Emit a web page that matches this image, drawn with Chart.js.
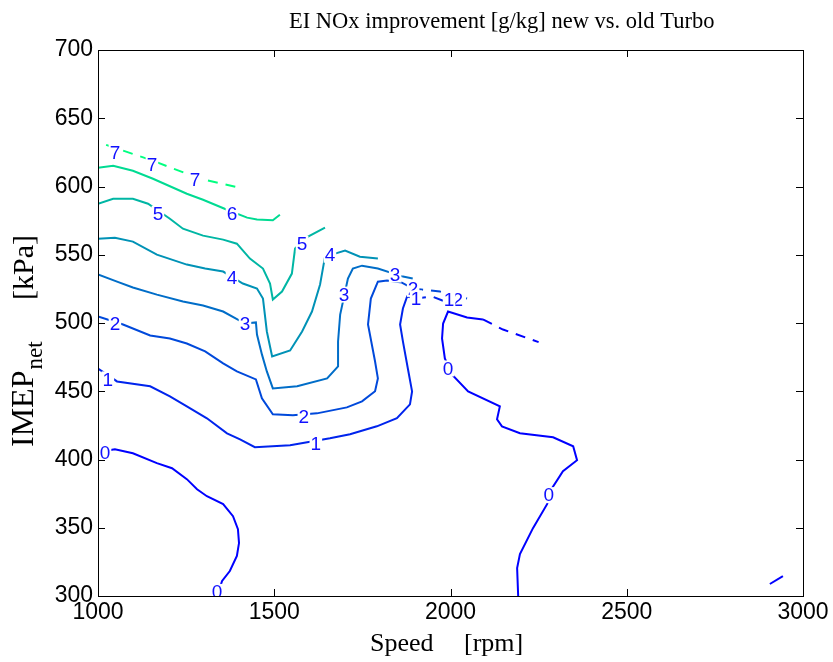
<!DOCTYPE html>
<html>
<head>
<meta charset="utf-8">
<script src="https://cdn.jsdelivr.net/npm/chart.js@4.4.1/dist/chart.umd.min.js"></script>
<style>
  html, body { margin: 0; padding: 0; background: #fff; }
  #wrap { width: 833px; height: 662px; }
</style>
</head>
<body>
<div id="wrap"><canvas id="contourChart" width="833" height="662"></canvas></div>
<script>
/* axis ticks */
var xTicks = [1000, 1500, 2000, 2500, 3000];
var yTicks = [300, 350, 400, 450, 500, 550, 600, 650, 700];

/* contour levels, winter colormap */
var levels = [0, 1, 2, 3, 4, 5, 6, 7];
var levelColors = ['#0000ff', '#0024ed', '#0049db', '#006dc8', '#0092b6', '#00b6a4', '#00db92', '#00ff80'];

/* contour lines [speed, imep] */
var lvl7Dash = [[1023, 630.5], [1148, 619.6], [1289, 605.7], [1403, 599.1]];
var lvl6 = [[1000, 613.7], [1043, 615.2], [1099, 611.5], [1156, 605.7], [1252, 594.7], [1298, 590.3], [1366, 583.0], [1423, 577.2], [1451, 575.9], [1496, 575.2], [1516, 579.3]];
var lvl5 = [[1000, 587.4], [1043, 591.0], [1099, 591.0], [1142, 587.4], [1204, 576.4], [1241, 569.1], [1298, 564.0], [1355, 561.1], [1394, 558.1], [1431, 547.2], [1468, 539.9], [1488, 528.9], [1496, 517.2], [1522, 523.0], [1550, 536.2], [1559, 554.5], [1596, 563.3], [1644, 569.8]];
var lvl4 = [[1000, 561.8], [1048, 562.5], [1099, 559.6], [1167, 550.1], [1252, 542.8], [1304, 539.9], [1355, 537.7], [1411, 528.9], [1451, 525.2], [1468, 517.9], [1479, 493.8], [1494, 475.5], [1545, 479.9], [1579, 493.8], [1607, 508.4], [1630, 528.2], [1644, 548.6], [1701, 553.0], [1743, 548.6], [1794, 547.2]];
var lvl3 = [[1000, 535.5], [1054, 530.3], [1099, 526.0], [1167, 520.8], [1241, 515.7], [1298, 512.8], [1355, 508.4], [1417, 499.6], [1448, 500.4], [1451, 491.6], [1465, 477.0], [1479, 464.5], [1496, 452.1], [1565, 453.6], [1650, 459.4], [1681, 468.2], [1681, 486.5], [1687, 506.2], [1709, 532.5], [1723, 539.9], [1749, 542.0], [1794, 539.9], [1865, 534.0]];
var lvl3Dash = [[1865, 534.0], [1905, 532.0]];
var lvl2 = [[1000, 504.8], [1071, 498.9], [1148, 490.9], [1204, 488.7], [1252, 485.0], [1304, 479.2], [1355, 470.4], [1394, 464.5], [1448, 458.7], [1465, 444.8], [1496, 433.1], [1553, 432.4], [1621, 433.8], [1706, 438.2], [1749, 442.6], [1786, 450.0], [1794, 459.4], [1786, 471.8], [1766, 498.9], [1774, 517.9], [1794, 530.3], [1820, 531.1], [1862, 529.6], [1894, 525.2]];
var lvl2Dash = [[1894, 525.2], [1970, 523.0], [2047, 517.9]];
var lvl1 = [[1000, 466.7], [1054, 457.2], [1148, 453.6], [1204, 446.3], [1252, 438.9], [1309, 430.2], [1366, 419.2], [1403, 414.8], [1445, 409.0], [1545, 410.4], [1658, 415.5], [1715, 418.5], [1791, 424.3], [1848, 430.2], [1885, 440.4], [1891, 449.9], [1879, 466.7], [1865, 486.5], [1857, 498.9], [1865, 510.6], [1877, 519.4], [1902, 517.9]];
var lvl1Dash = [[1902, 517.9], [1948, 519.4], [1985, 515.7]];
var lvl0a = [[1035, 407.0], [1048, 407.5], [1099, 404.6], [1167, 397.3], [1210, 393.6], [1252, 385.6], [1281, 378.2], [1309, 373.1], [1355, 367.3], [1383, 358.5], [1397, 349.0], [1400, 338.8], [1394, 329.3], [1374, 318.3], [1352, 311.0], [1338, 300]];
var lvl0b = [[2192, 300], [2189, 320.5], [2197, 330.7], [2234, 349.7], [2274, 367.3], [2288, 379.0], [2319, 391.4], [2359, 399.5], [2348, 409.7], [2291, 416.3], [2197, 419.2], [2146, 424.3], [2132, 429.4], [2140, 438.9], [2050, 449.9], [2004, 462.3], [1984, 474.0], [1976, 488.7], [1979, 499.6], [1993, 508.4], [2047, 504.0], [2092, 502.6]];
var lvl0Dash = [[2092, 502.6], [2149, 495.2], [2250, 486.0]];
var lvl0c = [[2906, 308.8], [2943, 314.6]];

/* inline contour labels [speed, imep, text] */
var contourLabels = [
  [1048, 625, '7'], [1153, 616, '7'], [1275, 605, '7'],
  [1380, 580, '6'],
  [1170, 580, '5'], [1579, 558, '5'],
  [1380, 533, '4'], [1658, 550, '4'],
  [1417, 499.6, '3'], [1698, 520.8, '3'], [1843, 535.5, '3'],
  [1048, 499.6, '2'], [1584, 431.6, '2'], [1894, 525, '2'], [2021, 517.2, '2'],
  [1028, 458.7, '1'], [1618, 411.2, '1'], [1902, 518, '1'], [1996, 517, '1'],
  [1020, 404.6, '0'], [1993, 466.7, '0'], [2279, 373.9, '0'], [1338, 303, '0']
];

var pieces = [
  { lvl: 7, pts: lvl7Dash, dash: true },
  { lvl: 6, pts: lvl6 },
  { lvl: 5, pts: lvl5 },
  { lvl: 4, pts: lvl4 },
  { lvl: 3, pts: lvl3 },
  { lvl: 3, pts: lvl3Dash, dash: true },
  { lvl: 2, pts: lvl2 },
  { lvl: 2, pts: lvl2Dash, dash: true },
  { lvl: 1, pts: lvl1 },
  { lvl: 1, pts: lvl1Dash, dash: true },
  { lvl: 0, pts: lvl0a },
  { lvl: 0, pts: lvl0b },
  { lvl: 0, pts: lvl0Dash, dash: true },
  { lvl: 0, pts: lvl0c }
];

var datasets = pieces.map(function (p) {
  return {
    label: 'level ' + p.lvl,
    data: p.pts.map(function (d) { return { x: d[0], y: d[1] }; }),
    showLine: true,
    borderColor: levelColors[levels.indexOf(p.lvl)],
    borderWidth: 2,
    borderDash: p.dash ? [10, 8] : [],
    pointRadius: 0,
    tension: 0,
    fill: false
  };
});

var serif = '"Liberation Serif", "Times New Roman", serif';

/* box with inward ticks, like matlab axes */
var framePlugin = {
  id: 'frame',
  afterDraw: function (chart) {
    var ctx = chart.ctx, a = chart.chartArea;
    var sx = chart.scales.x, sy = chart.scales.y;
    ctx.save();
    ctx.strokeStyle = '#000';
    ctx.lineWidth = 1;
    ctx.strokeRect(a.left + 0.5, a.top + 0.5, a.right - a.left, a.bottom - a.top);
    ctx.beginPath();
    xTicks.forEach(function (v) {
      var px = Math.round(sx.getPixelForValue(v)) + 0.5;
      ctx.moveTo(px, a.bottom); ctx.lineTo(px, a.bottom - 7);
      ctx.moveTo(px, a.top); ctx.lineTo(px, a.top + 7);
    });
    yTicks.forEach(function (v) {
      var py = Math.round(sy.getPixelForValue(v)) + 0.5;
      ctx.moveTo(a.left, py); ctx.lineTo(a.left + 7, py);
      ctx.moveTo(a.right, py); ctx.lineTo(a.right - 7, py);
    });
    ctx.stroke();

    /* title and axis labels */
    ctx.fillStyle = '#000';
    ctx.textAlign = 'left';
    ctx.textBaseline = 'alphabetic';
    ctx.font = '22.5px ' + serif;
    ctx.fillText('EI NOx improvement [g/kg] new vs. old Turbo', 289, 28);
    ctx.font = '26px ' + serif;
    ctx.fillText('Speed', 370, 651);
    ctx.fillText('[rpm]', 464, 651);

    /* IMEP_net [kPa], rotated */
    ctx.translate(33, 0);
    ctx.rotate(-Math.PI / 2);
    ctx.font = '32px ' + serif;
    var wI = ctx.measureText('IMEP').width;
    ctx.fillText('IMEP', -447, 0);
    ctx.font = '23px ' + serif;
    ctx.fillText('net', -447 + wI + 1, 9);
    ctx.font = '30px ' + serif;
    ctx.textAlign = 'right';
    ctx.fillText('[kPa]', -235, 0);
    ctx.restore();
  }
};

/* clabel style numbers sitting in the lines */
var labelPlugin = {
  id: 'clabels',
  afterDatasetsDraw: function (chart) {
    var ctx = chart.ctx, a = chart.chartArea;
    var sx = chart.scales.x, sy = chart.scales.y;
    ctx.save();
    ctx.beginPath();
    ctx.rect(a.left + 1, a.top + 1, a.right - a.left - 1, a.bottom - a.top - 1);
    ctx.clip();
    ctx.font = '19px "Liberation Sans", Arial, sans-serif';
    ctx.textAlign = 'center';
    ctx.textBaseline = 'middle';
    contourLabels.forEach(function (l) {
      var px = sx.getPixelForValue(l[0]), py = sy.getPixelForValue(l[1]);
      var w = ctx.measureText(l[2]).width;
      ctx.fillStyle = '#fff';
      ctx.fillRect(px - w / 2 - 1, py - 8, w + 2, 16);
      ctx.fillStyle = '#1010ff';
      ctx.fillText(l[2], px, py + 1);
    });
    ctx.restore();
  }
};

var contourChart = new Chart(document.getElementById('contourChart'), {
  type: 'scatter',
  data: { datasets: datasets },
  options: {
    responsive: false,
    animation: false,
    devicePixelRatio: 1,
    layout: { padding: { left: 0, right: 30, top: 50, bottom: 0 } },
    plugins: {
      legend: { display: false },
      tooltip: { enabled: false },
      title: { display: false }
    },
    scales: {
      x: {
        type: 'linear',
        min: 1000,
        max: 3000,
        afterBuildTicks: function (scale) { scale.ticks = xTicks.map(function (v) { return { value: v }; }); },
        afterFit: function (scale) { scale.height = 66; },
        grid: { display: false, drawTicks: false },
        border: { display: false },
        ticks: {
          color: '#000',
          padding: 3,
          maxRotation: 0,
          callback: function (v) { return String(v); },
          font: { family: '"Liberation Sans", Arial, sans-serif', size: 23 }
        }
      },
      y: {
        type: 'linear',
        min: 300,
        max: 700,
        afterBuildTicks: function (scale) { scale.ticks = yTicks.map(function (v) { return { value: v }; }); },
        afterFit: function (scale) { scale.width = 98; },
        grid: { display: false, drawTicks: false },
        border: { display: false },
        ticks: {
          color: '#000',
          padding: 5,
          callback: function (v) { return String(v); },
          font: { family: '"Liberation Sans", Arial, sans-serif', size: 23 }
        }
      }
    }
  },
  plugins: [framePlugin, labelPlugin]
});
</script>
</body>
</html>
